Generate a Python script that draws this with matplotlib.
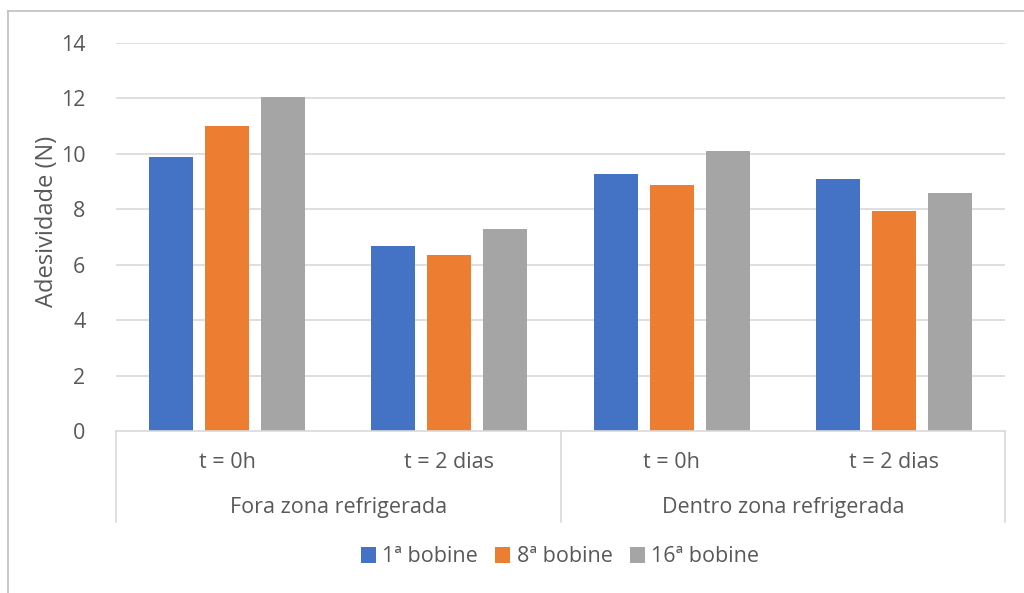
import matplotlib
matplotlib.use("Agg")
import matplotlib.pyplot as plt
from matplotlib.lines import Line2D
from matplotlib.patches import Patch

# Data
subcategories = ["t = 0h", "t = 2 dias", "t = 0h", "t = 2 dias"]
groups = ["Fora zona refrigerada", "Dentro zona refrigerada"]
series_names = ["1ª bobine", "8ª bobine", "16ª bobine"]
bobine_1 = [9.89, 6.66, 9.27, 9.08]
bobine_8 = [11.0, 6.34, 8.87, 7.95]
bobine_16 = [12.05, 7.30, 10.10, 8.58]
y_ticks = [0, 2, 4, 6, 8, 10, 12, 14]

colors = ["#4472C4", "#ED7D31", "#A5A5A5"]
text_color = "#595959"
grid_color = "#D9D9D9"

plt.rcParams["font.family"] = ["Open Sans", "DejaVu Sans"]
fs = 15.5

fig = plt.figure(figsize=(10.24, 5.93), dpi=100)
ax = fig.add_axes([116 / 1024, 1 - 431 / 593, (1005 - 116) / 1024, (431 - 43) / 593])

x = list(range(len(subcategories)))
offset = 0.252
width = 0.198
for i, (vals, col) in enumerate(zip([bobine_1, bobine_8, bobine_16], colors)):
    ax.bar([xi + (i - 1) * offset for xi in x], vals, width=width, color=col,
           label=series_names[i], zorder=3)

ax.set_xlim(-0.5, len(subcategories) - 0.5)
ax.set_ylim(0, 14)
ax.set_yticks(y_ticks)
ax.set_yticklabels([str(t) for t in y_ticks], fontsize=fs, color=text_color)
ax.tick_params(axis="y", length=0, pad=22)
ax.set_xticks([])
for t in y_ticks[1:]:
    ax.axhline(t, color=grid_color, lw=1.2, zorder=1)
for s in ax.spines.values():
    s.set_visible(False)
ax.axhline(0, color=grid_color, lw=1.2, zorder=4, clip_on=False)

# Two-level category axis
trans = ax.get_xaxis_transform()
line_bottom = -(522 - 431) / 388
for xv in [-0.5, 1.5, 3.5]:
    ax.plot([xv, xv], [0, line_bottom], color=grid_color, lw=1.2,
            transform=trans, clip_on=False)
for xi, lab in zip(x, subcategories):
    ax.text(xi, -(462 - 431) / 388, lab, transform=trans, ha="center", va="center",
            fontsize=fs, color=text_color)
for gi, g in enumerate(groups):
    ax.text(gi * 2 + 0.5, -(507 - 431) / 388, g, transform=trans, ha="center",
            va="center", fontsize=fs, color=text_color)

fig.text(47 / 1024, 1 - 221 / 593, "Adesividade (N)", rotation=90, ha="center",
         va="center", fontsize=17, color=text_color)

handles = [Patch(facecolor=c, edgecolor="none") for c in colors]
leg = fig.legend(handles, series_names, loc="center", bbox_to_anchor=(560 / 1024, 1 - 557 / 593),
                 ncol=3, frameon=False, fontsize=fs, handlelength=0.7, handleheight=0.7,
                 handletextpad=0.3, columnspacing=0.8)
for t in leg.get_texts():
    t.set_color(text_color)

# Chart frame (left and top edges)
fig.add_artist(Line2D([8 / 1024, 8 / 1024], [0, 1 - 11 / 593], transform=fig.transFigure,
                      color="#BFBFBF", lw=1.2))
fig.add_artist(Line2D([8 / 1024, 1], [1 - 11 / 593, 1 - 11 / 593], transform=fig.transFigure,
                      color="#BFBFBF", lw=1.2))

fig.savefig("out.png", dpi=100)
